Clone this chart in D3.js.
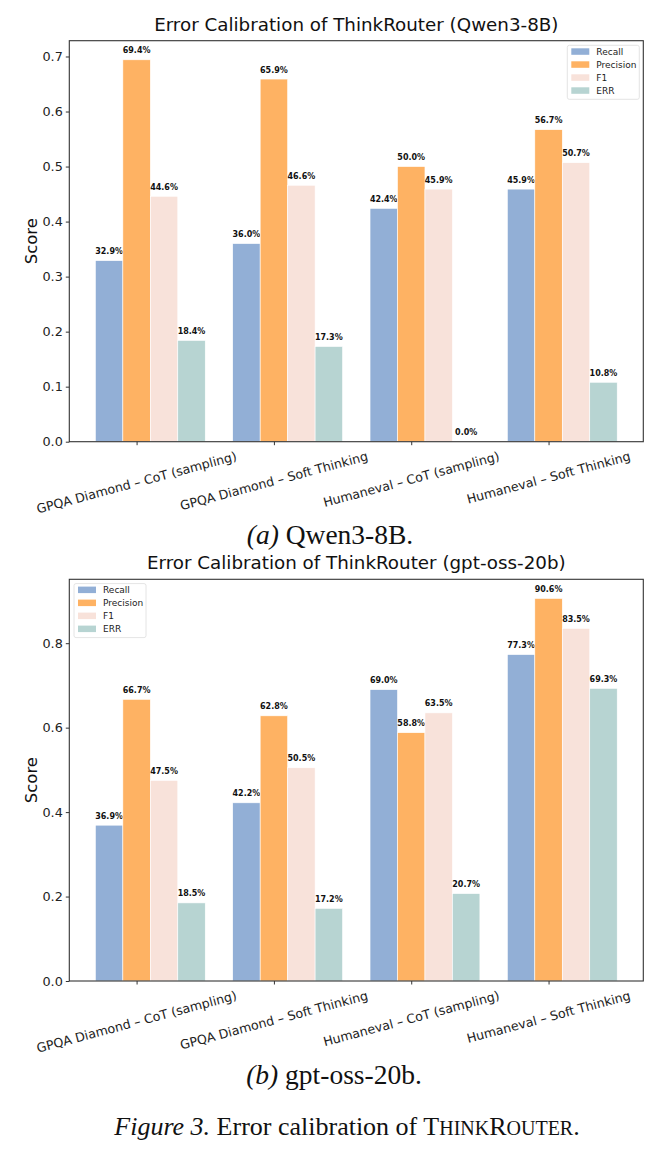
<!DOCTYPE html>
<html>
<head>
<meta charset="utf-8">
<script src="https://cdn.jsdelivr.net/npm/d3@7"></script>
<style>
  body { margin: 0; background: #fff; }
  svg { display: block; }
</style>
</head>
<body>
<div id="my_dataviz"></div>
<script>
// categories shared by both panels
var categories = ["GPQA Diamond – CoT (sampling)", "GPQA Diamond – Soft Thinking", "Humaneval – CoT (sampling)", "Humaneval – Soft Thinking"];
var seriesNames = ["Recall", "Precision", "F1", "ERR"];
var seriesColors = ["#92afd6", "#feb263", "#f8e2da", "#b7d4d2"];

// panel (a) Qwen3-8B
var qwenRecall = [0.329, 0.360, 0.424, 0.459];
var qwenPrecision = [0.694, 0.659, 0.500, 0.567];
var qwenF1 = [0.446, 0.466, 0.459, 0.507];
var qwenErr = [0.184, 0.173, 0.000, 0.108];
var qwenTicks = [0.0, 0.1, 0.2, 0.3, 0.4, 0.5, 0.6, 0.7];

// panel (b) gpt-oss-20b
var gptRecall = [0.369, 0.422, 0.690, 0.773];
var gptPrecision = [0.667, 0.628, 0.588, 0.906];
var gptF1 = [0.475, 0.505, 0.635, 0.835];
var gptErr = [0.185, 0.172, 0.207, 0.693];
var gptTicks = [0.0, 0.2, 0.4, 0.6, 0.8];

var W = 668, H = 1155;
var barW = 0.2;

var svg = d3.select("#my_dataviz")
  .append("svg")
    .attr("width", W)
    .attr("height", H);

function drawPanel(opts) {
    var series = opts.series;
    var allVals = d3.merge(series);

    // x domain like matplotlib: bars from -0.3 to 3.5, 5% margins
    var x = d3.scaleLinear()
      .domain([-0.49, 3.69])
      .range([69.3, 643.3]);
    var y = d3.scaleLinear()
      .domain([0, d3.max(allVals) * 1.05])
      .range([opts.bottom, opts.top]);

    var g = svg.append("g");

    // bars
    series.forEach(function(vals, si) {
        g.selectAll(".bar" + si)
          .data(vals)
          .enter()
          .append("rect")
            .attr("x", function(d, i) { return x(i + (si - 1) * barW - barW / 2); })
            .attr("width", x(barW) - x(0))
            .attr("y", function(d) { return y(d); })
            .attr("height", function(d) { return y(0) - y(d); })
            .attr("fill", seriesColors[si])
            .attr("stroke", "white")
            .attr("stroke-width", 0.6);

        // value labels
        g.selectAll(".lab" + si)
          .data(vals)
          .enter()
          .append("text")
            .attr("x", function(d, i) { return x(i + (si - 1) * barW); })
            .attr("y", function(d) { return y(d) - 6.5; })
            .attr("text-anchor", "middle")
            .style("font-family", "DejaVu Sans")
            .style("font-weight", "bold")
            .style("font-size", "8px")
            .attr("fill", "#111")
            .text(function(d) { return (d * 100).toFixed(1) + "%"; });
    });

    // y axis
    var yAxis = d3.axisLeft(y)
      .tickValues(opts.ticks)
      .tickFormat(d3.format(".1f"))
      .tickSize(3.5)
      .tickPadding(3);
    var ya = g.append("g")
      .attr("transform", "translate(69.3,0)")
      .call(yAxis);
    ya.select(".domain").remove();
    ya.selectAll("line").attr("stroke", "#333");
    ya.selectAll("text")
      .style("font-family", "DejaVu Sans")
      .style("font-size", "12.8px")
      .attr("fill", "#222");

    // x axis ticks
    var xa = g.append("g")
      .attr("transform", "translate(0," + opts.bottom + ")")
      .call(d3.axisBottom(x).tickValues([0, 1, 2, 3]).tickSize(3.5).tickFormat(""));
    xa.select(".domain").remove();
    xa.selectAll("line").attr("stroke", "#333");

    // rotated category labels, bbox top just under the ticks
    categories.forEach(function(c, i) {
        var t = g.append("text")
          .style("font-family", "DejaVu Sans")
          .style("font-size", "12.6px")
          .attr("fill", "#222")
          .attr("text-anchor", "middle")
          .attr("dominant-baseline", "central")
          .text(c);
        var L = t.node().getComputedTextLength();
        var a = 15 * Math.PI / 180;
        var bh = L * Math.sin(a) + 14.5 * Math.cos(a);
        var cy = opts.bottom + 7 + bh / 2;
        t.attr("transform", "translate(" + x(i) + "," + cy + ") rotate(-15)");
    });

    // frame
    g.append("rect")
      .attr("x", 69.3)
      .attr("y", opts.top)
      .attr("width", 643.3 - 69.3)
      .attr("height", opts.bottom - opts.top)
      .attr("fill", "none")
      .attr("stroke", "#333")
      .attr("stroke-width", 1.1);

    // title
    g.append("text")
      .attr("x", (69.3 + 643.3) / 2)
      .attr("y", opts.top - 10)
      .attr("text-anchor", "middle")
      .style("font-family", "DejaVu Sans")
      .style("font-size", "18.3px")
      .attr("fill", "#111")
      .text(opts.title);

    // y label
    g.append("text")
      .attr("transform", "translate(37," + ((opts.top + opts.bottom) / 2) + ") rotate(-90)")
      .attr("text-anchor", "middle")
      .style("font-family", "DejaVu Sans")
      .style("font-size", "16.5px")
      .attr("fill", "#111")
      .text("Score");

    // legend
    var lg = g.append("g").attr("transform", "translate(" + opts.legendX + "," + opts.legendY + ")");
    lg.append("rect")
      .attr("width", 72)
      .attr("height", 54)
      .attr("rx", 2)
      .attr("fill", "white")
      .attr("fill-opacity", 0.8)
      .attr("stroke", "#ddd")
      .attr("stroke-width", 0.8);
    seriesNames.forEach(function(n, i) {
        lg.append("rect")
          .attr("x", 4)
          .attr("y", 3 + i * 13)
          .attr("width", 18)
          .attr("height", 6.5)
          .attr("fill", seriesColors[i]);
        lg.append("text")
          .attr("x", 29)
          .attr("y", 6.5 + i * 13)
          .attr("dominant-baseline", "central")
          .style("font-family", "DejaVu Sans")
          .style("font-size", "9px")
          .attr("fill", "#222")
          .text(n);
    });
}

drawPanel({
    series: [qwenRecall, qwenPrecision, qwenF1, qwenErr],
    ticks: qwenTicks,
    top: 40.7,
    bottom: 441.7,
    title: "Error Calibration of ThinkRouter (Qwen3-8B)",
    legendX: 567.3,
    legendY: 45.3
});

drawPanel({
    series: [gptRecall, gptPrecision, gptF1, gptErr],
    ticks: gptTicks,
    top: 579.3,
    bottom: 981,
    title: "Error Calibration of ThinkRouter (gpt-oss-20b)",
    legendX: 74,
    legendY: 583.6
});

// captions
function caption(xPos, yPos, size, label, rest) {
    var t = svg.append("text")
      .attr("x", xPos)
      .attr("y", yPos)
      .attr("text-anchor", "middle")
      .style("font-family", "Liberation Serif")
      .style("font-size", size + "px")
      .attr("fill", "#111");
    t.append("tspan").style("font-style", "italic").text(label);
    t.append("tspan").text(rest);
    return t;
}
caption(330, 544, 27.5, "(a)", " Qwen3-8B.");
caption(334, 1084, 27.5, "(b)", " gpt-oss-20b.");

var fig = caption(347, 1135, 26, "Figure 3.", " Error calibration of ");
fig.append("tspan").text("T");
fig.append("tspan").style("font-size", "20px").text("HINK");
fig.append("tspan").text("R");
fig.append("tspan").style("font-size", "20px").text("OUTER");
fig.append("tspan").text(".");
</script>
</body>
</html>
